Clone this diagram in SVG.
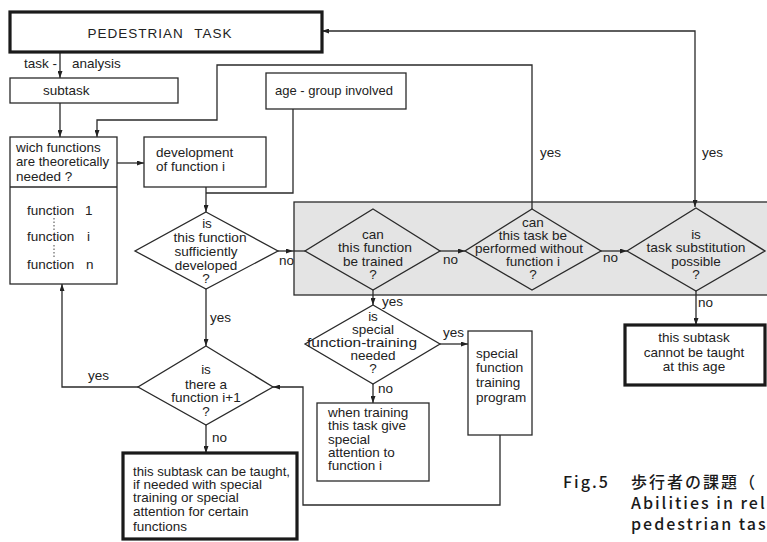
<svg xmlns="http://www.w3.org/2000/svg" width="767" height="542" viewBox="0 0 767 542">
  <style>
    text { font-family: "Liberation Sans", Arial, sans-serif; font-size: 13.5px; fill: #222; }
    .c { text-anchor: middle; }
    .box { fill: #fff; stroke: #2a2a2a; stroke-width: 1.3; }
    .thick { fill: #fff; stroke: #1a1a1a; stroke-width: 3.2; }
    .dia { fill: none; stroke: #2a2a2a; stroke-width: 1.3; }
    .ln { fill: none; stroke: #2a2a2a; stroke-width: 1.3; }
    .arr { fill: none; stroke: #2a2a2a; stroke-width: 1.3; marker-end: url(#ah); }
    .cap { font-family: "Noto Sans CJK JP", "Liberation Sans", sans-serif; font-size: 16px; font-weight: 500; letter-spacing: 2px; fill: #1a1a1a; }
  </style>
  <defs>
    <marker id="ah" viewBox="0 0 7 5" refX="7" refY="2.5" markerWidth="7" markerHeight="5" markerUnits="userSpaceOnUse" orient="auto-start-reverse">
      <path d="M0,0 L7,2.5 L0,5 z" fill="#222"/>
    </marker>
  </defs>

  <rect width="767" height="542" fill="#fff"/>

  <!-- shaded band holding the three trainability decisions -->
  <g id="band">
    <rect x="294" y="202" width="480" height="93" fill="#e4e4e4" stroke="#2a2a2a" stroke-width="1.3"/>
  </g>

  <g id="connectors">
    <path class="arr" d="M60,52 V78"/>
    <path class="arr" d="M60,103 V137"/>
    <path class="arr" d="M117,163 H144"/>
    <path class="arr" d="M206,187 V212"/>
    <path class="ln" d="M293,109 V193 H206"/>
    <path class="arr" d="M206,289 V346"/>
    <path class="arr" d="M138,387 H62 V284"/>
    <path class="arr" d="M206,425 V453"/>
    <path class="arr" d="M278,251 H293"/>
    <path class="ln" d="M293,251 H305"/>
    <path class="arr" d="M440,251 H465"/>
    <path class="arr" d="M601,251 H627"/>
    <path class="arr" d="M532,209 V65 H217 V120 H97 V137"/>
    <path class="ln" d="M695,207 V31 H322" marker-start="url(#ah)" marker-end="url(#ah)"/>
    <path class="arr" d="M696,291 V325"/>
    <path class="arr" d="M373,290 V305"/>
    <path class="arr" d="M440,344 H468"/>
    <path class="arr" d="M373,384 V403"/>
    <path class="arr" d="M500,435 V505 H303 V387 H273"/>
    <!-- branch labels -->
    <text x="24" y="68">task -</text>
    <text x="72" y="68">analysis</text>
    <text x="279" y="265">no</text>
    <text x="443" y="264">no</text>
    <text x="603" y="262">no</text>
    <text x="540" y="157">yes</text>
    <text x="702" y="157">yes</text>
    <text x="382" y="306">yes</text>
    <text x="443" y="337">yes</text>
    <text x="378" y="393">no</text>
    <text x="698" y="307">no</text>
    <text x="210" y="322">yes</text>
    <text x="88" y="380">yes</text>
    <text x="212" y="442">no</text>
  </g>

  <g id="pedestrian-task">
    <rect class="thick" x="10" y="12" width="312" height="40" stroke-width="3.6"/>
    <text class="c" x="160" y="38" font-size="14" letter-spacing="1" word-spacing="6">PEDESTRIAN TASK</text>
  </g>

  <g id="subtask">
    <rect class="box" x="10" y="78" width="168" height="25"/>
    <text x="43" y="95">subtask</text>
  </g>

  <g id="age-group">
    <rect class="box" x="266" y="73" width="140" height="36"/>
    <text x="275" y="95" textLength="118" lengthAdjust="spacingAndGlyphs">age - group involved</text>
  </g>

  <g id="functions-needed">
    <rect class="box" x="10" y="137" width="107" height="147"/>
    <line class="ln" x1="10" y1="187" x2="117" y2="187"/>
    <text x="16" y="152">wich functions</text>
    <text x="16" y="166" textLength="93" lengthAdjust="spacingAndGlyphs">are theoretically</text>
    <text x="16" y="181">needed ?</text>
    <text x="27" y="215">function</text><text x="85" y="215">1</text>
    <text x="27" y="241">function</text><text x="87" y="241">i</text>
    <text x="27" y="269">function</text><text x="86" y="269">n</text>
    <path d="M54,218 V230 M54,245 V258" stroke="#444" stroke-width="1" stroke-dasharray="1.5,2" fill="none"/>
  </g>

  <g id="development">
    <rect class="box" x="144" y="137" width="122" height="50"/>
    <text x="156" y="157">development</text>
    <text x="156" y="171">of function i</text>
  </g>

  <g id="sufficiently-developed">
    <path class="dia" d="M206,212 L278,251 L206,289 L135,251 Z"/>
    <text class="c" x="207" y="228">is</text>
    <text class="c" x="210" y="242" textLength="73" lengthAdjust="spacingAndGlyphs">this function</text>
    <text class="c" x="206" y="256">sufficiently</text>
    <text class="c" x="206" y="270">developed</text>
    <text class="c" x="206" y="283">?</text>
  </g>

  <g id="can-be-trained">
    <path class="dia" d="M373,209 L440,251 L373,290 L305,251 Z"/>
    <text class="c" x="373" y="239">can</text>
    <text class="c" x="375" y="252" textLength="74" lengthAdjust="spacingAndGlyphs">this function</text>
    <text class="c" x="373" y="266">be trained</text>
    <text class="c" x="373" y="279">?</text>
  </g>

  <g id="without-function">
    <path class="dia" d="M532,209 L601,251 L532,290 L465,251 Z"/>
    <text class="c" x="533" y="227">can</text>
    <text class="c" x="533" y="240">this task be</text>
    <text class="c" x="529" y="253" textLength="108" lengthAdjust="spacingAndGlyphs">performed without</text>
    <text class="c" x="533" y="266">function  i</text>
    <text class="c" x="533" y="279">?</text>
  </g>

  <g id="task-substitution">
    <path class="dia" d="M696,208 L765,251 L696,291 L627,251 Z"/>
    <text class="c" x="696" y="239">is</text>
    <text class="c" x="696" y="252" textLength="99" lengthAdjust="spacingAndGlyphs">task substitution</text>
    <text class="c" x="696" y="266">possible</text>
    <text class="c" x="696" y="279">?</text>
  </g>

  <g id="cannot-be-taught">
    <rect class="thick" x="625" y="325" width="140" height="60"/>
    <text class="c" x="694" y="342">this subtask</text>
    <text class="c" x="694" y="357">cannot be taught</text>
    <text class="c" x="694" y="371">at this age</text>
  </g>

  <g id="special-training-needed">
    <path class="dia" d="M373,305 L440,344 L373,384 L305,344 Z"/>
    <text class="c" x="373" y="321">is</text>
    <text class="c" x="373" y="334">special</text>
    <text class="c" x="362" y="347" textLength="110" lengthAdjust="spacingAndGlyphs">function-training</text>
    <text class="c" x="373" y="360">needed</text>
    <text class="c" x="373" y="373">?</text>
  </g>

  <g id="training-program">
    <rect class="box" x="468" y="331" width="64" height="104"/>
    <text x="476" y="358">special</text>
    <text x="476" y="372">function</text>
    <text x="476" y="387">training</text>
    <text x="476" y="402">program</text>
  </g>

  <g id="special-attention">
    <rect class="box" x="317" y="403" width="112" height="78"/>
    <text x="328" y="417">when training</text>
    <text x="328" y="430">this task give</text>
    <text x="328" y="444">special</text>
    <text x="328" y="457">attention to</text>
    <text x="328" y="470">function  i</text>
  </g>

  <g id="next-function">
    <path class="dia" d="M206,346 L273,387 L206,425 L138,387 Z"/>
    <text class="c" x="206" y="374">is</text>
    <text class="c" x="206" y="389">there a</text>
    <text class="c" x="206" y="402">function i+1</text>
    <text class="c" x="206" y="416">?</text>
  </g>

  <g id="can-be-taught">
    <rect class="thick" x="123" y="453" width="174" height="86"/>
    <text x="133" y="476" textLength="157" lengthAdjust="spacingAndGlyphs">this subtask can be taught,</text>
    <text x="133" y="489">if needed with special</text>
    <text x="133" y="502">training or special</text>
    <text x="133" y="516">attention for certain</text>
    <text x="133" y="531">functions</text>
  </g>

  <g id="caption">
    <text class="cap" x="563" y="488">Fig.5</text>
    <text class="cap" x="631" y="488">歩行者の課題（</text>
    <text class="cap" x="631" y="509">Abilities in rel</text>
    <text class="cap" x="631" y="530">pedestrian tas</text>
  </g>
</svg>
